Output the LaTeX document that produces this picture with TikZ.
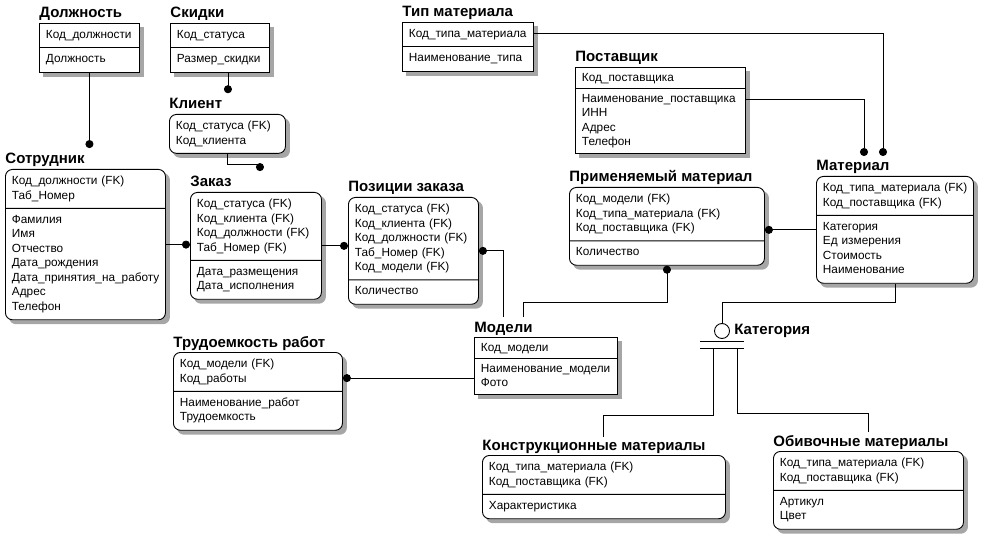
\documentclass[tikz,border=0pt]{standalone}
\usepackage{fontspec}
\setmainfont{Liberation Sans}
\usetikzlibrary{calc}
\usetikzlibrary{positioning}
\usetikzlibrary{arrows.meta}
\usetikzlibrary{shapes.multipart,backgrounds}

\newcommand{\attrs}[1]{\strut#1\strut}

\begin{document}
\begin{tikzpicture}[x=1pt, y=-1pt, line width=0.9pt]
    \tikzstyle{entity}=[draw, fill=white, rectangle split, rectangle split parts=2,
                        anchor=north west, align=left, inner xsep=6.5pt, inner ysep=4.5pt,
                        font=\fontsize{11.8}{14.5}\selectfont]
    \tikzstyle{depent}=[entity, rounded corners=7pt]
    \tikzstyle{etitle}=[anchor=base west, inner sep=1pt, font=\fontsize{15}{17}\selectfont\bfseries]
    \tikzstyle{eshadow}=[fill=gray!70, draw=none]
    \tikzstyle{rel}=[-{Circle[length=8pt]}]
    \useasboundingbox (0,0) rectangle (981,537);

    % entities
    \node[entity, text width=87pt] (dolzh) at (39,23)
        {\attrs{Код\_должности}\nodepart{two}\attrs{Должность}};
    \node[entity, text width=86pt] (skidki) at (170,23)
        {\attrs{Код\_статуса}\nodepart{two}\attrs{Размер\_скидки}};
    \node[depent, rectangle split parts=1, text width=103pt] (klient) at (169,114)
        {\attrs{Код\_статуса~(FK)\\Код\_клиента}};
    \node[depent, text width=147pt] (sotr) at (5,169)
        {\attrs{Код\_должности~(FK)\\Таб\_Номер}\nodepart{two}\attrs{Фамилия\\Имя\\Отчество\\Дата\_рождения\\Дата\_принятия\_на\_работу\\Адрес\\Телефон}};
    \node[depent, text width=118pt] (zakaz) at (190,192)
        {\attrs{Код\_статуса~(FK)\\Код\_клиента~(FK)\\Код\_должности~(FK)\\Таб\_Номер~(FK)}\nodepart{two}\attrs{Дата\_размещения\\Дата\_исполнения}};
    \node[depent, text width=117pt] (pozic) at (348,197)
        {\attrs{Код\_статуса~(FK)\\Код\_клиента~(FK)\\Код\_должности~(FK)\\Таб\_Номер~(FK)\\Код\_модели~(FK)}\nodepart{two}\attrs{Количество}};
    \node[entity, text width=130pt, inner ysep=3pt] (modeli) at (474,337)
        {\attrs{Код\_модели}\nodepart{two}\attrs{Наименование\_модели\\Фото}};
    \node[depent, text width=156pt] (trud) at (173,352)
        {\attrs{Код\_модели~(FK)\\Код\_работы}\nodepart{two}\attrs{Наименование\_работ\\Трудоемкость}};
    \node[entity, text width=118pt] (tipmat) at (402,22)
        {\attrs{Код\_типа\_материала}\nodepart{two}\attrs{Наименование\_типа}};
    \node[entity, text width=157pt, inner ysep=3pt] (postav) at (575,67)
        {\attrs{Код\_поставщика}\nodepart{two}\attrs{Наименование\_поставщика\\ИНН\\Адрес\\Телефон}};
    \node[depent, text width=144pt] (material) at (816,176)
        {\attrs{Код\_типа\_материала~(FK)\\Код\_поставщика~(FK)}\nodepart{two}\attrs{Категория\\Ед измерения\\Стоимость\\Наименование}};
    \node[depent, text width=182pt] (primmat) at (569,187)
        {\attrs{Код\_модели~(FK)\\Код\_типа\_материала~(FK)\\Код\_поставщика~(FK)}\nodepart{two}\attrs{Количество}};
    \node[depent, text width=230pt] (konstr) at (482,455)
        {\attrs{Код\_типа\_материала~(FK)\\Код\_поставщика~(FK)}\nodepart{two}\attrs{Характеристика}};
    \node[depent, text width=177pt] (obiv) at (773,451)
        {\attrs{Код\_типа\_материала~(FK)\\Код\_поставщика~(FK)}\nodepart{two}\attrs{Артикул\\Цвет}};

    % shadows
    \begin{scope}[on background layer]
        \foreach \n/\r in {dolzh/0, skidki/0, klient/7, sotr/7, zakaz/7, pozic/7, modeli/0,
                           trud/7, tipmat/0, postav/0, material/7, primmat/7, konstr/7, obiv/7}
            \fill[eshadow, rounded corners=\r pt] ($(\n.south west)+(4,4)$) rectangle ($(\n.north east)+(4,4)$);
    \end{scope}

    % entity names
    \foreach \n/\t in {dolzh/Должность, skidki/Скидки, klient/Клиент, sotr/Сотрудник,
                       zakaz/Заказ, pozic/Позиции заказа, modeli/Модели, trud/Трудоемкость работ,
                       tipmat/Тип материала, postav/Поставщик, material/Материал,
                       primmat/Применяемый материал, konstr/Конструкционные материалы,
                       obiv/Обивочные материалы}
        \node[etitle] (t\n) at ($(\n.north west)+(-1,-5)$) {\t};

    % category
    \node[draw, circle, minimum size=15pt, inner sep=0pt] (cat) at (722,331) {};
    \node[etitle, anchor=west] (tcat) at ($(cat.east)+(3,0)$) {Категория};

    % free ends
    \coordinate (e1) at ($(tsotr.north -| dolzh.south)+(0,-4)$);
    \coordinate (e2) at ($(tklient.north -| skidki.south)+(8,-4)$);
    \coordinate (e3) at ($(tzakaz.north -| zakaz.north)+(4,-4)$);
    \coordinate (e4) at ($(material.north west)+(48,-20)$);
    \coordinate (e5) at ($(material.north west)+(67,-20)$);
    \coordinate (mw) at ($(modeli.west)+(0,12)$);
    \coordinate (k1) at ($(konstr.north west)+(121,-18)$);
    \coordinate (o1) at ($(obiv.north west)+(95,-19)$);

    % relationships
    \draw[rel] (dolzh.south) -- (e1);
    \draw[rel] ($(skidki.south)+(8,0)$) -- (e2);
    \draw[rel] (klient.south) -- ++(0,11) -| (e3);
    \draw[rel] (sotr.east) -- (sotr.east -| zakaz.west);
    \draw[rel] (zakaz.east) -- (zakaz.east -| pozic.west);
    \draw[rel] ($(tmodeli.north)+(0,-3)$) |- (pozic.east);
    \draw[rel] ($(tmodeli.north)+(20,-3)$) -- ++(0,-15) -| (primmat.south);
    \draw[rel] (mw) -- (mw -| trud.east);
    \draw[rel] ($(tipmat.north east)+(0,11)$) -| (e5);
    \draw[rel] ($(postav.north east)+(0,32)$) -| (e4);
    \draw[rel] (material.west) -- (material.west -| primmat.east);

    % subtypes
    \draw (material.south) -- ++(0,19) -| (cat.north);
    \draw ($(cat.south)+(-22,2)$) -- ($(cat.south)+(22,2)$);
    \draw ($(cat.south)+(-22,9)$) -- ($(cat.south)+(22,9)$);
    \draw ($(cat.south)+(-9,9)$) |- ($(k1)+(0,-22)$) -- (k1);
    \draw ($(cat.south)+(15,9)$) |- ($(o1)+(0,-19)$) -- (o1);
\end{tikzpicture}
\end{document}
